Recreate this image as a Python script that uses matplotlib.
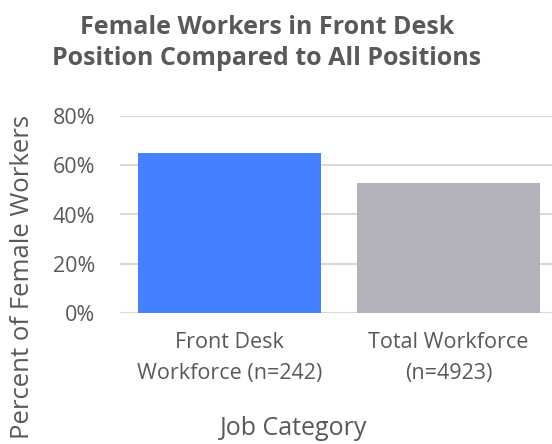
import matplotlib
matplotlib.use("Agg")
import matplotlib.pyplot as plt
from matplotlib.ticker import FuncFormatter

categories = ["Front Desk\nWorkforce (n=242)", "Total Workforce\n(n=4923)"]
values = [0.65, 0.528]
colors = ["#4480FF", "#B2B2BB"]
yticks = [0, 0.2, 0.4, 0.6, 0.8]

plt.rcParams['font.family'] = ['Open Sans', 'DejaVu Sans']
W, H = 552, 444
fig = plt.figure(figsize=(W/100, H/100), dpi=100)
ax = fig.add_axes([120/W, (H-313)/H, (552-120)/W, (313-116)/H])

x = list(range(len(categories)))
ax.bar(x, values, width=0.836, color=colors, zorder=3)
ax.set_xlim(-0.5, -0.5 + 432/219)
ax.set_ylim(0, 0.8)
ax.set_yticks(yticks)
ax.yaxis.set_major_formatter(FuncFormatter(lambda v, p: f"{v*100:.0f}%"))
ax.grid(axis='y', color='#D9D9D9', linewidth=1.5, zorder=0)
for s in ax.spines.values():
    s.set_visible(False)
ax.tick_params(axis='both', length=0, labelsize=15.5, labelcolor='#595959')
ax.tick_params(axis='y', pad=18)
ax.tick_params(axis='x', pad=14)
ax.set_xticks(x)
ax.set_xticklabels(categories, linespacing=1.6)

fig.text(294/W, 1 - 428/H, "Job Category", ha='center', va='center', fontsize=18, color='#595959')
fig.text(23/W, 1 - 277/H, "Percent of Female Workers", ha='center', va='center', rotation=90, fontsize=18.5, color='#595959')
fig.text(267/W, 1 - 43/H, "Female Workers in Front Desk\nPosition Compared to All Positions", ha='center', va='center',
         fontsize=18, fontweight='bold', color='#595959', linespacing=1.3)

fig.savefig("out.png", dpi=100)
